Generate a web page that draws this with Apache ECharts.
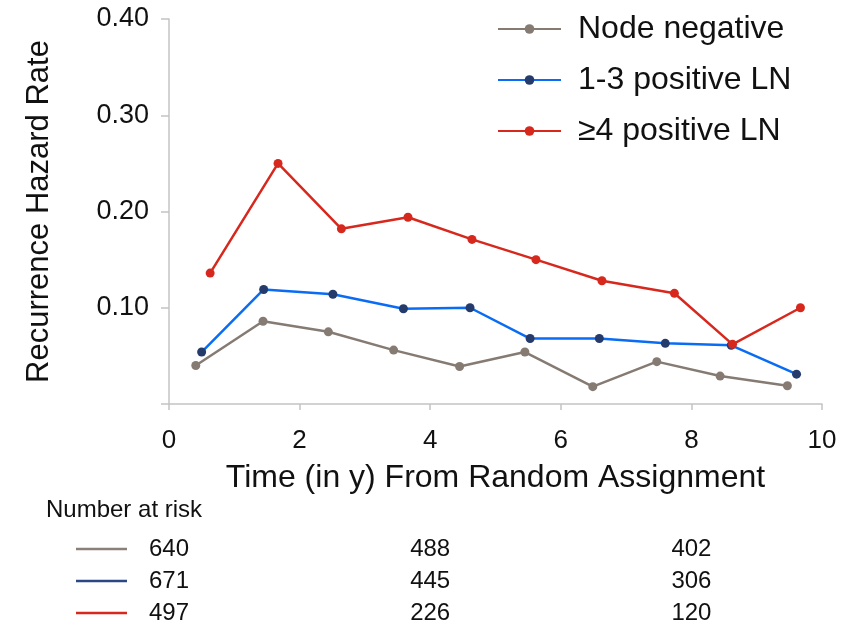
<!DOCTYPE html>
<html>
<head>
<meta charset="utf-8">
<script src="https://cdn.jsdelivr.net/npm/echarts@6/dist/echarts.min.js"></script>
<style>
html,body{margin:0;padding:0;background:#fff;}
#chart{width:851px;height:627px;}
</style>
</head>
<body>
<div id="chart"></div>
<script>
// ---- data ----
var seriesNames = ['Node negative', '1-3 positive LN', '\u22654 positive LN'];

var nodeNegX = [0.41, 1.44, 2.44, 3.44, 4.45, 5.45, 6.49, 7.47, 8.44, 9.47];
var nodeNegY = [0.040, 0.086, 0.075, 0.056, 0.039, 0.054, 0.018, 0.044, 0.029, 0.019];

var pos13X = [0.50, 1.45, 2.51, 3.59, 4.61, 5.53, 6.59, 7.60, 8.61, 9.61];
var pos13Y = [0.054, 0.119, 0.114, 0.099, 0.100, 0.068, 0.068, 0.063, 0.061, 0.031];

var pos4X = [0.63, 1.67, 2.64, 3.66, 4.64, 5.62, 6.63, 7.74, 8.63, 9.67];
var pos4Y = [0.136, 0.250, 0.182, 0.194, 0.171, 0.150, 0.128, 0.115, 0.062, 0.100];

var atRiskTitle = 'Number at risk';
var atRiskTimes = [0, 4, 8];
var atRiskNodeNeg = [640, 488, 402];
var atRiskPos13 = [671, 445, 306];
var atRiskPos4 = [497, 226, 120];

var xAxisName = 'Time (in y) From Random Assignment';
var yAxisName = 'Recurrence Hazard Rate';

// ---- styles ----
var FONT = '"Liberation Sans", Arial, Helvetica, sans-serif';
var lineColors = ['#857b73', '#0a6cf5', '#d7281e'];
var markerColors = ['#857b73', '#243b6b', '#d7281e'];
var tableLineColors = ['#8a8078', '#2b4786', '#d7281e'];

function pairs(xs, ys) { return xs.map(function (x, i) { return [x, ys[i]]; }); }

var chart = echarts.init(document.getElementById('chart'), null, { renderer: 'canvas' });

var seriesData = [pairs(nodeNegX, nodeNegY), pairs(pos13X, pos13Y), pairs(pos4X, pos4Y)];

var option = {
  backgroundColor: '#fff',
  animation: false,
  textStyle: { fontFamily: FONT },
  grid: { left: 169, right: 29, top: 19, bottom: 223, containLabel: false },
  legend: {
    orient: 'vertical',
    left: 492,
    top: 8,
    itemWidth: 63,
    itemHeight: 12,
    itemGap: 19,
    textStyle: { fontSize: 32, color: '#111', fontFamily: FONT, padding: [0, 0, 0, 12] },
    data: seriesNames
  },
  xAxis: {
    type: 'value',
    min: 0, max: 10, interval: 2,
    name: xAxisName,
    nameLocation: 'middle',
    nameGap: 58,
    nameTextStyle: { fontSize: 32, color: '#111', fontFamily: FONT },
    axisLine: { show: true, lineStyle: { color: '#c4c4c4', width: 1.5 } },
    axisTick: { show: true, length: 6, lineStyle: { color: '#c4c4c4', width: 1.5 } },
    axisLabel: { fontSize: 26, color: '#111', margin: 24, fontFamily: FONT },
    splitLine: { show: false }
  },
  yAxis: {
    type: 'value',
    min: 0, max: 0.4, interval: 0.1,
    name: yAxisName,
    nameLocation: 'middle',
    nameGap: 114,
    nameTextStyle: { fontSize: 31, color: '#111', fontFamily: FONT },
    axisLine: { show: true, lineStyle: { color: '#c4c4c4', width: 1.5 } },
    axisTick: { show: true, length: 8, lineStyle: { color: '#c4c4c4', width: 1.5 } },
    axisLabel: {
      fontSize: 27, color: '#111', margin: 20, fontFamily: FONT,
      formatter: function (v) { return v === 0 ? '' : v.toFixed(2); }
    },
    splitLine: { show: false }
  },
  series: seriesData.map(function (d, i) {
    return {
      name: seriesNames[i],
      type: 'line',
      data: d,
      symbol: 'circle',
      symbolSize: 9,
      showSymbol: true,
      lineStyle: { color: lineColors[i], width: 2.5 },
      itemStyle: { color: markerColors[i] },
      z: 2 + i
    };
  })
};

chart.setOption(option);

// ---- number at risk table, placed with the x-axis scale ----
var rows = [atRiskNodeNeg, atRiskPos13, atRiskPos4];
var rowY = [549, 581, 613];
var g = [];
g.push({
  type: 'text', x: 46, y: 510,
  style: { text: atRiskTitle, font: '24px ' + FONT, fill: '#111', verticalAlign: 'middle' }
});
rows.forEach(function (vals, r) {
  g.push({
    type: 'line',
    shape: { x1: 76, y1: rowY[r], x2: 127, y2: rowY[r] },
    style: { stroke: tableLineColors[r], lineWidth: 2.5 }
  });
  vals.forEach(function (v, c) {
    var px = chart.convertToPixel({ xAxisIndex: 0 }, atRiskTimes[c]);
    g.push({
      type: 'text', x: px, y: rowY[r],
      style: { text: String(v), font: '24px ' + FONT, fill: '#111', align: 'center', verticalAlign: 'middle' }
    });
  });
});
chart.setOption({ graphic: g });
</script>
</body>
</html>
